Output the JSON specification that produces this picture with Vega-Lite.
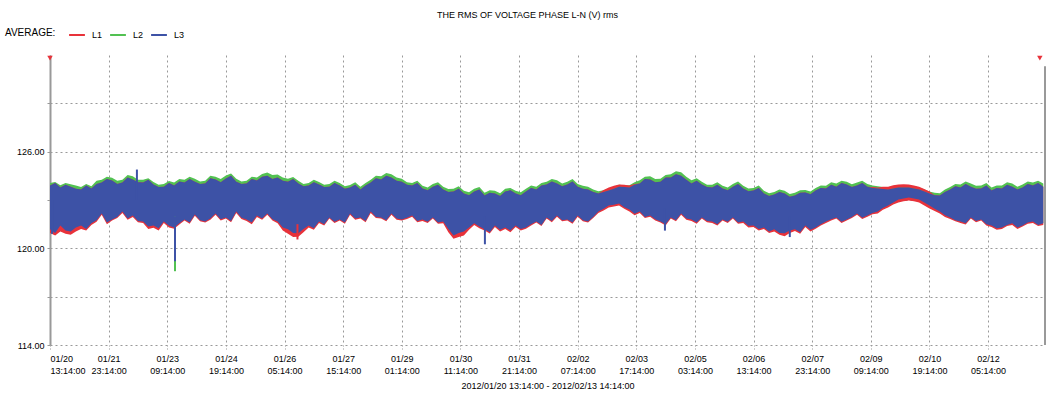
{
  "$schema": "https://vega.github.io/schema/vega-lite/v6.json",
  "width": 995,
  "height": 290,
  "autosize": {"type": "none"},
  "padding": {"left": 50, "top": 55, "right": 7, "bottom": 63},
  "background": "white",
  "config": {"view": {"stroke": null}, "font": "Liberation Sans"},
  "title": {"text": "THE RMS OF VOLTAGE PHASE L-N (V) rms", "fontSize": 9, "fontWeight": "normal", "color": "#000", "offset": 6, "anchor": "middle", "dx": -20},
  "datasets": {
    "band": [
      {"h": 0, "gh": 124.05, "bh": 123.90, "bl": 121.18, "rl": 120.95},
      {"h": 3, "gh": 124.12, "bh": 124.05, "bl": 120.95, "rl": 120.80},
      {"h": 6, "gh": 123.92, "bh": 123.77, "bl": 121.42, "rl": 121.05},
      {"h": 9, "gh": 124.05, "bh": 123.95, "bl": 121.10, "rl": 120.90},
      {"h": 12, "gh": 123.98, "bh": 123.83, "bl": 121.05, "rl": 120.85},
      {"h": 15, "gh": 123.90, "bh": 123.70, "bl": 121.30, "rl": 121.05},
      {"h": 18, "gh": 123.80, "bh": 123.65, "bl": 121.42, "rl": 121.20},
      {"h": 21, "gh": 124.00, "bh": 123.90, "bl": 121.20, "rl": 121.10},
      {"h": 24, "gh": 123.85, "bh": 123.71, "bl": 121.55, "rl": 121.45},
      {"h": 27, "gh": 124.20, "bh": 124.00, "bl": 121.75, "rl": 121.65},
      {"h": 30, "gh": 124.25, "bh": 124.08, "bl": 122.16, "rl": 122.08},
      {"h": 33, "gh": 124.45, "bh": 124.30, "bl": 121.60, "rl": 121.50},
      {"h": 36, "gh": 124.38, "bh": 124.21, "bl": 121.79, "rl": 121.72},
      {"h": 39, "gh": 124.20, "bh": 124.00, "bl": 121.95, "rl": 121.88},
      {"h": 42, "gh": 124.25, "bh": 124.08, "bl": 122.29, "rl": 122.20},
      {"h": 45, "gh": 124.55, "bh": 124.40, "bl": 121.85, "rl": 121.78},
      {"h": 48, "gh": 124.48, "bh": 124.27, "bl": 122.04, "rl": 121.95},
      {"h": 51, "gh": 124.25, "bh": 124.10, "bl": 121.70, "rl": 121.62},
      {"h": 54, "gh": 124.25, "bh": 124.08, "bl": 121.67, "rl": 121.58},
      {"h": 57, "gh": 124.35, "bh": 124.25, "bl": 121.35, "rl": 121.20},
      {"h": 60, "gh": 124.12, "bh": 123.96, "bl": 121.42, "rl": 121.28},
      {"h": 63, "gh": 123.95, "bh": 123.80, "bl": 121.25, "rl": 121.10},
      {"h": 66, "gh": 124.00, "bh": 123.83, "bl": 121.67, "rl": 121.58},
      {"h": 69, "gh": 124.18, "bh": 124.05, "bl": 121.40, "rl": 121.30},
      {"h": 72, "gh": 124.08, "bh": 123.90, "bl": 121.30, "rl": 121.22},
      {"h": 75, "gh": 124.30, "bh": 124.15, "bl": 121.55, "rl": 121.48},
      {"h": 78, "gh": 124.25, "bh": 124.08, "bl": 121.79, "rl": 121.72},
      {"h": 81, "gh": 124.45, "bh": 124.30, "bl": 121.60, "rl": 121.52},
      {"h": 84, "gh": 124.32, "bh": 124.14, "bl": 122.10, "rl": 122.02},
      {"h": 87, "gh": 124.15, "bh": 124.00, "bl": 121.75, "rl": 121.68},
      {"h": 90, "gh": 124.20, "bh": 124.02, "bl": 121.67, "rl": 121.60},
      {"h": 93, "gh": 124.50, "bh": 124.35, "bl": 121.85, "rl": 121.78},
      {"h": 96, "gh": 124.45, "bh": 124.27, "bl": 122.16, "rl": 122.08},
      {"h": 99, "gh": 124.30, "bh": 124.10, "bl": 121.80, "rl": 121.72},
      {"h": 102, "gh": 124.52, "bh": 124.33, "bl": 121.92, "rl": 121.85},
      {"h": 105, "gh": 124.65, "bh": 124.50, "bl": 121.70, "rl": 121.62},
      {"h": 108, "gh": 124.32, "bh": 124.14, "bl": 122.29, "rl": 122.20},
      {"h": 111, "gh": 124.15, "bh": 124.00, "bl": 121.90, "rl": 121.82},
      {"h": 114, "gh": 124.20, "bh": 124.02, "bl": 121.79, "rl": 121.70},
      {"h": 117, "gh": 124.45, "bh": 124.30, "bl": 121.60, "rl": 121.50},
      {"h": 120, "gh": 124.40, "bh": 124.21, "bl": 122.04, "rl": 121.95},
      {"h": 123, "gh": 124.62, "bh": 124.45, "bl": 121.85, "rl": 121.78},
      {"h": 126, "gh": 124.70, "bh": 124.51, "bl": 122.16, "rl": 122.08},
      {"h": 129, "gh": 124.55, "bh": 124.30, "bl": 121.80, "rl": 121.72},
      {"h": 132, "gh": 124.58, "bh": 124.39, "bl": 121.67, "rl": 121.55},
      {"h": 135, "gh": 124.40, "bh": 124.20, "bl": 121.30, "rl": 121.10},
      {"h": 138, "gh": 124.32, "bh": 124.14, "bl": 121.18, "rl": 120.90},
      {"h": 141, "gh": 124.42, "bh": 124.30, "bl": 120.95, "rl": 120.70},
      {"h": 144, "gh": 124.20, "bh": 124.02, "bl": 120.93, "rl": 120.72},
      {"h": 147, "gh": 124.00, "bh": 123.85, "bl": 121.20, "rl": 121.00},
      {"h": 150, "gh": 124.05, "bh": 123.90, "bl": 121.42, "rl": 121.30},
      {"h": 153, "gh": 124.25, "bh": 124.10, "bl": 121.25, "rl": 121.15},
      {"h": 156, "gh": 124.12, "bh": 123.96, "bl": 121.67, "rl": 121.58},
      {"h": 159, "gh": 123.95, "bh": 123.80, "bl": 121.50, "rl": 121.42},
      {"h": 162, "gh": 124.00, "bh": 123.83, "bl": 121.92, "rl": 121.85},
      {"h": 165, "gh": 124.20, "bh": 124.05, "bl": 121.65, "rl": 121.58},
      {"h": 168, "gh": 124.06, "bh": 123.90, "bl": 121.79, "rl": 121.72},
      {"h": 171, "gh": 123.85, "bh": 123.70, "bl": 121.60, "rl": 121.52},
      {"h": 174, "gh": 123.93, "bh": 123.77, "bl": 122.16, "rl": 122.08},
      {"h": 177, "gh": 124.10, "bh": 123.95, "bl": 121.85, "rl": 121.78},
      {"h": 180, "gh": 123.82, "bh": 123.65, "bl": 121.92, "rl": 121.85},
      {"h": 183, "gh": 124.05, "bh": 123.90, "bl": 121.70, "rl": 121.62},
      {"h": 186, "gh": 124.25, "bh": 124.08, "bl": 122.29, "rl": 122.20},
      {"h": 189, "gh": 124.50, "bh": 124.35, "bl": 121.95, "rl": 121.88},
      {"h": 192, "gh": 124.48, "bh": 124.27, "bl": 121.92, "rl": 121.85},
      {"h": 195, "gh": 124.68, "bh": 124.50, "bl": 121.75, "rl": 121.68},
      {"h": 198, "gh": 124.60, "bh": 124.39, "bl": 122.16, "rl": 122.08},
      {"h": 201, "gh": 124.40, "bh": 124.20, "bl": 121.85, "rl": 121.78},
      {"h": 204, "gh": 124.32, "bh": 124.14, "bl": 121.79, "rl": 121.72},
      {"h": 207, "gh": 124.10, "bh": 123.95, "bl": 121.90, "rl": 121.82},
      {"h": 210, "gh": 124.06, "bh": 123.90, "bl": 122.04, "rl": 121.96},
      {"h": 213, "gh": 124.20, "bh": 124.05, "bl": 121.70, "rl": 121.62},
      {"h": 216, "gh": 123.88, "bh": 123.71, "bl": 121.79, "rl": 121.70},
      {"h": 219, "gh": 123.78, "bh": 123.60, "bl": 121.65, "rl": 121.58},
      {"h": 222, "gh": 124.00, "bh": 123.83, "bl": 121.92, "rl": 121.85},
      {"h": 225, "gh": 124.10, "bh": 123.95, "bl": 121.60, "rl": 121.52},
      {"h": 228, "gh": 123.82, "bh": 123.65, "bl": 121.67, "rl": 121.55},
      {"h": 231, "gh": 123.68, "bh": 123.50, "bl": 121.20, "rl": 121.00},
      {"h": 234, "gh": 123.70, "bh": 123.53, "bl": 120.80, "rl": 120.60},
      {"h": 237, "gh": 123.85, "bh": 123.70, "bl": 120.95, "rl": 120.70},
      {"h": 240, "gh": 123.58, "bh": 123.40, "bl": 121.05, "rl": 120.80},
      {"h": 243, "gh": 123.48, "bh": 123.30, "bl": 121.30, "rl": 121.15},
      {"h": 246, "gh": 123.70, "bh": 123.53, "bl": 121.55, "rl": 121.45},
      {"h": 249, "gh": 123.80, "bh": 123.65, "bl": 121.35, "rl": 121.25},
      {"h": 252, "gh": 123.45, "bh": 123.28, "bl": 121.18, "rl": 121.10},
      {"h": 255, "gh": 123.60, "bh": 123.45, "bl": 121.00, "rl": 120.92},
      {"h": 258, "gh": 123.58, "bh": 123.40, "bl": 121.42, "rl": 121.32},
      {"h": 261, "gh": 123.42, "bh": 123.25, "bl": 121.15, "rl": 121.05},
      {"h": 264, "gh": 123.70, "bh": 123.53, "bl": 121.30, "rl": 121.20},
      {"h": 267, "gh": 123.75, "bh": 123.60, "bl": 121.10, "rl": 121.00},
      {"h": 270, "gh": 123.58, "bh": 123.40, "bl": 121.42, "rl": 121.32},
      {"h": 273, "gh": 123.48, "bh": 123.30, "bl": 121.20, "rl": 121.10},
      {"h": 276, "gh": 123.70, "bh": 123.53, "bl": 121.30, "rl": 121.22},
      {"h": 279, "gh": 123.90, "bh": 123.75, "bl": 121.50, "rl": 121.42},
      {"h": 282, "gh": 123.82, "bh": 123.65, "bl": 121.67, "rl": 121.60},
      {"h": 285, "gh": 124.05, "bh": 123.90, "bl": 121.45, "rl": 121.38},
      {"h": 288, "gh": 124.14, "bh": 123.96, "bl": 121.92, "rl": 121.85},
      {"h": 291, "gh": 124.30, "bh": 124.15, "bl": 121.70, "rl": 121.62},
      {"h": 294, "gh": 124.22, "bh": 124.02, "bl": 122.04, "rl": 121.96},
      {"h": 297, "gh": 124.02, "bh": 123.85, "bl": 121.75, "rl": 121.68},
      {"h": 300, "gh": 124.14, "bh": 123.96, "bl": 121.79, "rl": 121.72},
      {"h": 303, "gh": 124.30, "bh": 124.15, "bl": 121.60, "rl": 121.52},
      {"h": 306, "gh": 124.00, "bh": 123.83, "bl": 122.04, "rl": 121.96},
      {"h": 309, "gh": 123.88, "bh": 123.70, "bl": 121.75, "rl": 121.68},
      {"h": 312, "gh": 123.82, "bh": 123.65, "bl": 121.67, "rl": 121.60},
      {"h": 315, "gh": 123.65, "bh": 123.50, "bl": 121.95, "rl": 121.88},
      {"h": 318, "gh": 123.55, "bh": 123.40, "bl": 122.29, "rl": 122.20},
      {"h": 321, "gh": 123.60, "bh": 123.50, "bl": 122.45, "rl": 122.35},
      {"h": 324, "gh": 123.70, "bh": 123.59, "bl": 122.66, "rl": 122.54},
      {"h": 327, "gh": 123.82, "bh": 123.70, "bl": 122.70, "rl": 122.60},
      {"h": 330, "gh": 123.95, "bh": 123.83, "bl": 122.78, "rl": 122.66},
      {"h": 333, "gh": 123.92, "bh": 123.80, "bl": 122.55, "rl": 122.45},
      {"h": 336, "gh": 123.92, "bh": 123.77, "bl": 122.41, "rl": 122.29},
      {"h": 339, "gh": 124.10, "bh": 123.95, "bl": 122.15, "rl": 122.05},
      {"h": 342, "gh": 124.22, "bh": 124.02, "bl": 122.29, "rl": 122.20},
      {"h": 345, "gh": 124.45, "bh": 124.30, "bl": 121.95, "rl": 121.88},
      {"h": 348, "gh": 124.48, "bh": 124.27, "bl": 122.04, "rl": 121.96},
      {"h": 351, "gh": 124.30, "bh": 124.10, "bl": 121.80, "rl": 121.72},
      {"h": 354, "gh": 124.32, "bh": 124.14, "bl": 121.67, "rl": 121.60},
      {"h": 357, "gh": 124.55, "bh": 124.40, "bl": 121.50, "rl": 121.42},
      {"h": 360, "gh": 124.60, "bh": 124.39, "bl": 121.92, "rl": 121.85},
      {"h": 363, "gh": 124.78, "bh": 124.60, "bl": 121.75, "rl": 121.68},
      {"h": 366, "gh": 124.72, "bh": 124.51, "bl": 122.16, "rl": 122.08},
      {"h": 369, "gh": 124.45, "bh": 124.25, "bl": 121.85, "rl": 121.78},
      {"h": 372, "gh": 124.22, "bh": 124.02, "bl": 121.79, "rl": 121.70},
      {"h": 375, "gh": 124.35, "bh": 124.20, "bl": 121.60, "rl": 121.52},
      {"h": 378, "gh": 124.14, "bh": 123.96, "bl": 121.92, "rl": 121.85},
      {"h": 381, "gh": 123.95, "bh": 123.80, "bl": 121.70, "rl": 121.62},
      {"h": 384, "gh": 123.95, "bh": 123.77, "bl": 121.67, "rl": 121.58},
      {"h": 387, "gh": 124.10, "bh": 123.95, "bl": 121.50, "rl": 121.42},
      {"h": 390, "gh": 123.88, "bh": 123.71, "bl": 121.79, "rl": 121.72},
      {"h": 393, "gh": 123.78, "bh": 123.60, "bl": 121.65, "rl": 121.58},
      {"h": 396, "gh": 124.00, "bh": 123.83, "bl": 121.92, "rl": 121.85},
      {"h": 399, "gh": 124.15, "bh": 124.00, "bl": 121.60, "rl": 121.52},
      {"h": 402, "gh": 123.88, "bh": 123.71, "bl": 121.67, "rl": 121.58},
      {"h": 405, "gh": 123.72, "bh": 123.55, "bl": 121.40, "rl": 121.30},
      {"h": 408, "gh": 123.75, "bh": 123.59, "bl": 121.42, "rl": 121.32},
      {"h": 411, "gh": 123.90, "bh": 123.75, "bl": 121.20, "rl": 121.10},
      {"h": 414, "gh": 123.58, "bh": 123.40, "bl": 121.30, "rl": 121.20},
      {"h": 417, "gh": 123.42, "bh": 123.25, "bl": 121.05, "rl": 120.95},
      {"h": 420, "gh": 123.50, "bh": 123.34, "bl": 121.18, "rl": 121.05},
      {"h": 423, "gh": 123.65, "bh": 123.50, "bl": 120.95, "rl": 120.85},
      {"h": 426, "gh": 123.58, "bh": 123.40, "bl": 120.93, "rl": 120.75},
      {"h": 429, "gh": 123.38, "bh": 123.20, "bl": 121.10, "rl": 120.95},
      {"h": 432, "gh": 123.45, "bh": 123.28, "bl": 121.18, "rl": 121.08},
      {"h": 435, "gh": 123.60, "bh": 123.45, "bl": 121.00, "rl": 120.90},
      {"h": 438, "gh": 123.62, "bh": 123.46, "bl": 121.42, "rl": 121.32},
      {"h": 441, "gh": 123.52, "bh": 123.35, "bl": 121.15, "rl": 121.05},
      {"h": 444, "gh": 123.75, "bh": 123.59, "bl": 121.30, "rl": 121.22},
      {"h": 447, "gh": 123.90, "bh": 123.75, "bl": 121.50, "rl": 121.42},
      {"h": 450, "gh": 123.88, "bh": 123.71, "bl": 121.67, "rl": 121.58},
      {"h": 453, "gh": 124.10, "bh": 123.95, "bl": 121.80, "rl": 121.72},
      {"h": 456, "gh": 124.02, "bh": 123.83, "bl": 121.92, "rl": 121.85},
      {"h": 459, "gh": 124.20, "bh": 124.05, "bl": 121.65, "rl": 121.58},
      {"h": 462, "gh": 124.14, "bh": 123.96, "bl": 121.79, "rl": 121.72},
      {"h": 465, "gh": 123.98, "bh": 123.80, "bl": 121.95, "rl": 121.88},
      {"h": 468, "gh": 124.08, "bh": 123.90, "bl": 122.16, "rl": 122.08},
      {"h": 471, "gh": 124.20, "bh": 124.05, "bl": 121.90, "rl": 121.82},
      {"h": 474, "gh": 124.00, "bh": 123.83, "bl": 122.04, "rl": 121.96},
      {"h": 477, "gh": 123.90, "bh": 123.75, "bl": 122.20, "rl": 122.12},
      {"h": 480, "gh": 123.85, "bh": 123.71, "bl": 122.29, "rl": 122.16},
      {"h": 483, "gh": 123.80, "bh": 123.68, "bl": 122.50, "rl": 122.40},
      {"h": 486, "gh": 123.78, "bh": 123.65, "bl": 122.66, "rl": 122.54},
      {"h": 489, "gh": 123.85, "bh": 123.72, "bl": 122.85, "rl": 122.72},
      {"h": 492, "gh": 123.90, "bh": 123.77, "bl": 123.03, "rl": 122.84},
      {"h": 495, "gh": 123.90, "bh": 123.78, "bl": 123.10, "rl": 122.92},
      {"h": 498, "gh": 123.90, "bh": 123.77, "bl": 123.15, "rl": 122.97},
      {"h": 501, "gh": 123.85, "bh": 123.72, "bl": 123.10, "rl": 122.92},
      {"h": 504, "gh": 123.77, "bh": 123.65, "bl": 123.03, "rl": 122.84},
      {"h": 507, "gh": 123.65, "bh": 123.52, "bl": 122.85, "rl": 122.66},
      {"h": 510, "gh": 123.53, "bh": 123.40, "bl": 122.66, "rl": 122.47},
      {"h": 513, "gh": 123.45, "bh": 123.30, "bl": 122.45, "rl": 122.32},
      {"h": 516, "gh": 123.42, "bh": 123.28, "bl": 122.29, "rl": 122.16},
      {"h": 519, "gh": 123.65, "bh": 123.50, "bl": 122.05, "rl": 121.95},
      {"h": 522, "gh": 123.80, "bh": 123.65, "bl": 121.92, "rl": 121.82},
      {"h": 525, "gh": 124.00, "bh": 123.85, "bl": 121.75, "rl": 121.68},
      {"h": 528, "gh": 123.96, "bh": 123.77, "bl": 121.67, "rl": 121.58},
      {"h": 531, "gh": 124.15, "bh": 124.00, "bl": 121.55, "rl": 121.48},
      {"h": 534, "gh": 124.02, "bh": 123.83, "bl": 121.92, "rl": 121.85},
      {"h": 537, "gh": 123.88, "bh": 123.70, "bl": 121.70, "rl": 121.62},
      {"h": 540, "gh": 123.90, "bh": 123.71, "bl": 121.79, "rl": 121.72},
      {"h": 543, "gh": 124.05, "bh": 123.90, "bl": 121.50, "rl": 121.42},
      {"h": 546, "gh": 123.77, "bh": 123.59, "bl": 121.42, "rl": 121.32},
      {"h": 549, "gh": 123.90, "bh": 123.75, "bl": 121.25, "rl": 121.15},
      {"h": 552, "gh": 123.90, "bh": 123.71, "bl": 121.30, "rl": 121.20},
      {"h": 555, "gh": 124.10, "bh": 123.95, "bl": 121.45, "rl": 121.38},
      {"h": 558, "gh": 124.02, "bh": 123.83, "bl": 121.55, "rl": 121.45},
      {"h": 561, "gh": 123.82, "bh": 123.65, "bl": 121.30, "rl": 121.20},
      {"h": 564, "gh": 123.96, "bh": 123.77, "bl": 121.42, "rl": 121.35},
      {"h": 567, "gh": 124.15, "bh": 124.00, "bl": 121.60, "rl": 121.52},
      {"h": 570, "gh": 124.08, "bh": 123.90, "bl": 121.67, "rl": 121.58},
      {"h": 573, "gh": 124.20, "bh": 124.05, "bl": 121.45, "rl": 121.38},
      {"h": 576, "gh": 124.02, "bh": 123.83, "bl": 121.55, "rl": 121.45}
    ],
    "hump": [
      {"seg": "A", "h": 318, "rh": 123.40, "bh": 123.40},
      {"seg": "A", "h": 321, "rh": 123.62, "bh": 123.50},
      {"seg": "A", "h": 324, "rh": 123.77, "bh": 123.59},
      {"seg": "A", "h": 327, "rh": 123.88, "bh": 123.70},
      {"seg": "A", "h": 330, "rh": 123.96, "bh": 123.83},
      {"seg": "A", "h": 333, "rh": 123.95, "bh": 123.80},
      {"seg": "A", "h": 336, "rh": 123.90, "bh": 123.77},
      {"seg": "A", "h": 339, "rh": 124.00, "bh": 123.95},
      {"seg": "A", "h": 342, "rh": 124.02, "bh": 124.02},
      {"seg": "B", "h": 474, "rh": 123.83, "bh": 123.83},
      {"seg": "B", "h": 477, "rh": 123.80, "bh": 123.75},
      {"seg": "B", "h": 480, "rh": 123.77, "bh": 123.71},
      {"seg": "B", "h": 483, "rh": 123.82, "bh": 123.68},
      {"seg": "B", "h": 486, "rh": 123.83, "bh": 123.65},
      {"seg": "B", "h": 489, "rh": 123.92, "bh": 123.72},
      {"seg": "B", "h": 492, "rh": 123.96, "bh": 123.77},
      {"seg": "B", "h": 495, "rh": 123.97, "bh": 123.78},
      {"seg": "B", "h": 498, "rh": 123.96, "bh": 123.77},
      {"seg": "B", "h": 501, "rh": 123.90, "bh": 123.72},
      {"seg": "B", "h": 504, "rh": 123.83, "bh": 123.65},
      {"seg": "B", "h": 507, "rh": 123.68, "bh": 123.52},
      {"seg": "B", "h": 510, "rh": 123.53, "bh": 123.40},
      {"seg": "B", "h": 513, "rh": 123.30, "bh": 123.30}
    ],
    "spikes": [
      {"h": 1.2, "s": "L3", "lo": 120.9, "hi": 123.0},
      {"h": 50.4, "s": "L3", "lo": 123.0, "hi": 124.89},
      {"h": 72.5, "s": "L2", "lo": 118.58, "hi": 122.0},
      {"h": 72.5, "s": "L3", "lo": 119.2, "hi": 122.0},
      {"h": 143.5, "s": "L1", "lo": 120.55, "hi": 121.5},
      {"h": 252.2, "s": "L3", "lo": 120.25, "hi": 122.0},
      {"h": 356.6, "s": "L3", "lo": 121.1, "hi": 122.5},
      {"h": 429, "s": "L3", "lo": 120.7, "hi": 122.0}
    ],
    "pins": [
      {"h": 0},
      {"h": 574}
    ]
  },
  "layer": [
    {
      "data": {"name": "band"},
      "mark": {"type": "area", "opacity": 1},
      "encoding": {
        "x": {"field": "h", "type": "quantitative", "scale": {"domain": [0, 577], "nice": false, "zero": false},
          "axis": {"values": [0, 34, 68, 102, 136, 170, 204, 238, 272, 306, 340, 374, 408, 442, 476, 510, 544],
            "labelExpr": "[timeFormat(datetime(2012, 0, 20, 13 + datum.value, 14, 0), '%m/%d'), timeFormat(datetime(2012, 0, 20, 13 + datum.value, 14, 0), '%H:%M:%S')]",
            "labelFontSize": 9, "labelColor": "#000", "labelLineHeight": 12, "labelPadding": 4,
            "domain": false, "ticks": true, "tickSize": 5, "tickColor": "#999", "tickDash": [1, 2],
            "grid": true, "gridColor": "#999", "gridDash": [2, 3], "gridWidth": 1,
            "title": "2012/01/20 13:14:00 - 2012/02/13 14:14:00", "titleFontSize": 9, "titleFontWeight": "normal", "titleColor": "#000", "titlePadding": 6}},
        "y": {"field": "gh", "type": "quantitative", "scale": {"domain": [114, 132], "nice": false, "zero": false},
          "axis": {"values": [114, 117, 120, 123, 126, 129],
            "labelExpr": "(datum.value - 114) % 6 == 0 ? format(datum.value, '.2f') : ''",
            "labelFontSize": 9, "labelColor": "#000", "labelPadding": 3,
            "domain": true, "domainColor": "#999", "domainWidth": 2,
            "ticks": true, "tickSize": 3, "tickColor": "#999",
            "grid": true, "gridColor": "#999", "gridDash": [2, 3], "gridWidth": 1, "title": null}},
        "y2": {"field": "bl"},
        "color": {"datum": "L2", "type": "nominal",
          "scale": {"domain": ["L1", "L2", "L3"], "range": ["#e8323a", "#52c152", "#3d52a6"]},
          "legend": {"orient": "none", "legendX": -45, "legendY": -29, "direction": "horizontal",
            "title": "AVERAGE:", "titleOrient": "left", "titleFontSize": 10, "titleFontWeight": "normal", "titleColor": "#000", "titlePadding": 12,
            "labelFontSize": 9, "labelColor": "#000", "symbolType": "stroke", "symbolStrokeWidth": 2, "symbolSize": 250,
            "columnPadding": 3, "labelOffset": 6, "padding": 0,
            "encode": {"symbols": {"update": {"stroke": {"scale": "color", "field": "value"}, "strokeWidth": {"value": 2}, "fill": {"value": "transparent"}}}}}}
      }
    },
    {
      "data": {"name": "band"},
      "mark": {"type": "area", "opacity": 1},
      "encoding": {
        "x": {"field": "h", "type": "quantitative"},
        "y": {"field": "bh", "type": "quantitative"},
        "y2": {"field": "rl"},
        "color": {"datum": "L1", "type": "nominal"}
      }
    },
    {
      "data": {"name": "hump"},
      "mark": {"type": "area", "opacity": 1},
      "encoding": {
        "x": {"field": "h", "type": "quantitative"},
        "y": {"field": "rh", "type": "quantitative"},
        "y2": {"field": "bh"},
        "detail": {"field": "seg"},
        "color": {"datum": "L1", "type": "nominal"}
      }
    },
    {
      "data": {"name": "band"},
      "mark": {"type": "area", "opacity": 1},
      "encoding": {
        "x": {"field": "h", "type": "quantitative"},
        "y": {"field": "bh", "type": "quantitative"},
        "y2": {"field": "bl"},
        "color": {"datum": "L3", "type": "nominal"}
      }
    },
    {
      "data": {"name": "spikes"},
      "mark": {"type": "rule", "strokeWidth": 2},
      "encoding": {
        "x": {"field": "h", "type": "quantitative"},
        "y": {"field": "lo", "type": "quantitative"},
        "y2": {"field": "hi"},
        "color": {"field": "s", "type": "nominal"}
      }
    },
    {
      "data": {"name": "pins"},
      "mark": {"type": "point", "shape": "triangle-down", "filled": true, "color": "#e8323a", "size": 30, "opacity": 1},
      "encoding": {
        "x": {"field": "h", "type": "quantitative"},
        "y": {"datum": 131.8}
      }
    },
    {
      "data": {"values": [{}]},
      "mark": {"type": "rule", "color": "#999", "strokeWidth": 2},
      "encoding": {
        "x": {"datum": 577},
        "y": {"datum": 131.3},
        "y2": {"datum": 114}
      }
    }
  ]
}
